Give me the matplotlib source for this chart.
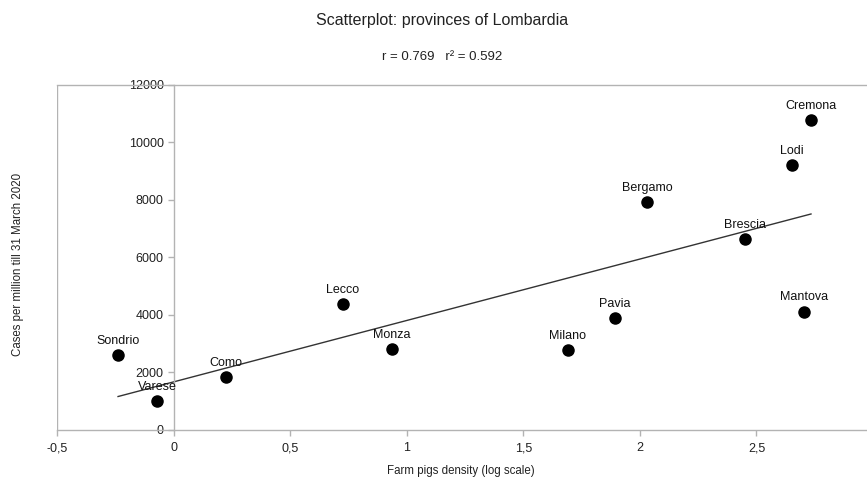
import numpy as np
import matplotlib
matplotlib.use("Agg")
import matplotlib.pyplot as plt
from matplotlib.ticker import FuncFormatter

plt.rcParams['font.family'] = ['Liberation Sans', 'DejaVu Sans']

provinces = ["Sondrio", "Varese", "Como", "Lecco", "Monza", "Milano",
             "Pavia", "Bergamo", "Brescia", "Mantova", "Lodi", "Cremona"]
pig_density_log = [-0.240, -0.073, 0.223, 0.725, 0.936, 1.691,
                   1.893, 2.030, 2.451, 2.704, 2.652, 2.734]
cases_per_million = [2600, 1010, 1840, 4380, 2820, 2770,
                     3900, 7920, 6630, 4110, 9200, 10780]

GREY = '#b3b3b3'

fig = plt.figure(figsize=(8.67, 4.79), dpi=100)
ax = fig.add_axes([0.0663, 0.1023, 0.9406, 0.7203])

x = np.array(pig_density_log)
y = np.array(cases_per_million)

# linear trend line over the data range
slope, intercept = np.polyfit(x, y, 1)
xs = np.array([x.min(), x.max()])
ax.plot(xs, slope * xs + intercept, color='#333333', lw=1.0, zorder=2)

ax.scatter(x, y, s=64, color='black', zorder=3)
for name, xi, yi in zip(provinces, x, y):
    ax.annotate(name, (xi, yi), xytext=(0, 6), textcoords='offset points',
                ha='center', va='bottom', fontsize=9, color='#111111', zorder=4)

ax.set_xlim(-0.5, 3.0)
ax.set_ylim(0, 12000)
ax.set_xticks([-0.5, 0, 0.5, 1, 1.5, 2, 2.5])
ax.set_yticks(range(0, 12001, 2000))
ax.xaxis.set_major_formatter(FuncFormatter(lambda v, p: ('%g' % v).replace('.', ',')))
ax.yaxis.set_major_formatter(FuncFormatter(lambda v, p: '%d' % v))

# y axis drawn at x = 0, frame line at the left edge
ax.spines['left'].set_position(('data', 0))
ax.spines['right'].set_visible(False)
for s in ['left', 'top', 'bottom']:
    ax.spines[s].set_color(GREY)
    ax.spines[s].set_linewidth(1.0)
ax.axvline(-0.5, color=GREY, lw=1.0, zorder=1)

ax.tick_params(axis='both', colors=GREY, labelcolor='#222222', labelsize=9,
               length=4, width=1)
ax.tick_params(axis='x', pad=5)

fig.text(0.532, 0.0167, "Farm pigs density (log scale)", fontsize=8.3,
         ha='center', va='center', color='#222222')
fig.text(0.021, 0.447, "Cases per million till 31 March 2020", fontsize=8.3,
         ha='center', va='center', rotation=90, color='#222222')

fig.text(0.51, 0.958, "Scatterplot: provinces of Lombardia", fontsize=11.5,
         ha='center', va='center', color='#222222')
fig.text(0.51, 0.881, "r = 0.769   r\u00b2 = 0.592", fontsize=9.5,
         ha='center', va='center', color='#222222')

fig.savefig("out.png", dpi=100)
